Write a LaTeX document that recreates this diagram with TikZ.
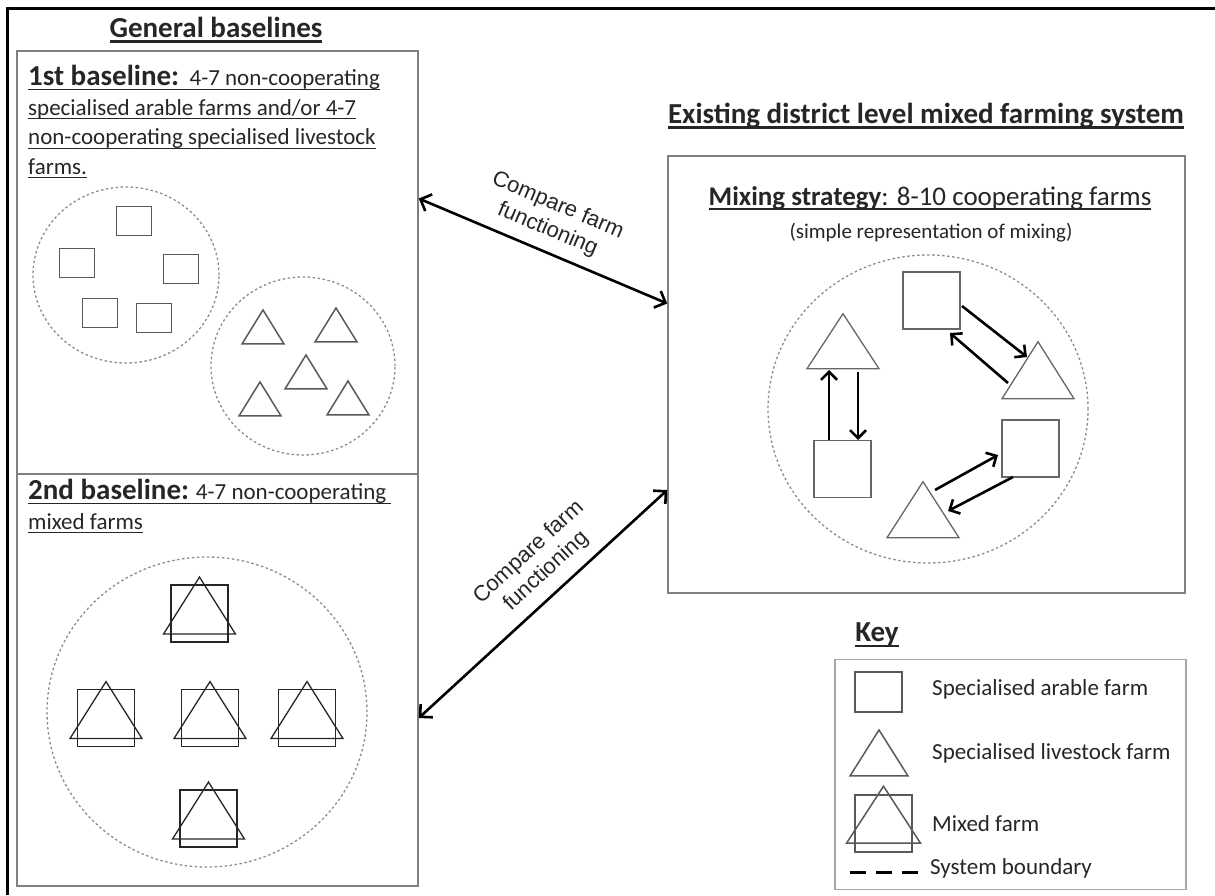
\documentclass[tikz,border=0pt]{standalone}
\usepackage{fontspec}
\setmainfont{Carlito}
\newfontfamily\arialfont{Liberation Sans}
\usetikzlibrary{shapes,positioning,calc,arrows.meta}

\newcommand{\headfont}{\fontsize{29}{34}\selectfont\bfseries}
\newcommand{\bodyfont}{\fontsize{23}{29.5}\selectfont}
\newsavebox{\ulbox}
\newcommand{\ulx}[2][0.9pt]{\sbox{\ulbox}{#2}\rlap{\rule[-0.18em]{\wd\ulbox}{#1}}\usebox{\ulbox}}
\newcommand{\headline}[1]{\ulx[2.4pt]{#1}}

\begin{document}
\begin{tikzpicture}[x=1pt, y=-1pt, text=black!85,
    panel/.style={draw=black!50, line width=1.5pt, inner sep=0},
    boundary/.style={draw=black!45, line width=1.3pt, dash pattern=on 2.5pt off 2.5pt, ellipse, inner sep=0},
    arable/.style={draw=black!65, line width=1.5pt, inner sep=0, minimum width=35, minimum height=29},
    livestock/.style={draw=black!65, line width=1.5pt, isosceles triangle, isosceles triangle stretches,
      shape border rotate=90, inner sep=0, anchor=apex, minimum width=42, minimum height=34},
    big/.style={draw=black!60, line width=1.3pt, minimum width=57, minimum height=57},
    bigtri/.style={draw=black!60, line width=1.3pt, minimum width=72, minimum height=56},
    mixed/.style={draw=black!85, line width=1.3pt},
    keytext/.style={font=\bodyfont, inner sep=0, anchor=west},
    flow/.style={line width=2.6pt, >={Straight Barb[length=8pt,width=16pt]}},
    cmp/.style={sloped, above=10pt, align=center, inner sep=0,
      font=\arialfont\fontsize{22}{26}\selectfont}]
  \useasboundingbox (0,0) rectangle (1215,895);
  \draw[line width=3pt] (7,895) -- (7,8) -- (1215,8);

  % general baselines
  \node[font=\headfont] (gentitle) at (216,30) {\headline{General baselines}};
  \node[panel, minimum width=401, minimum height=423] (base1) at (217.5,262.5) {};
  \node[panel, minimum width=401, minimum height=412] (base2) at (217.5,680) {};
  \node[anchor=north west, align=left, inner sep=0, font=\bodyfont] (base1txt) at (28,65)
    {\ulx{{\headfont 1st baseline:}\ \ 4-7 non-cooperating}\\
     \ulx{specialised arable farms and/or 4-7}\\
     \ulx{non-cooperating specialised livestock}\\
     \ulx{farms.}};
  \node[anchor=north west, align=left, inner sep=0, font=\bodyfont] (base2txt) at (28,479)
    {\ulx{{\headfont 2nd baseline:} 4-7 non-cooperating\ }\\
     \ulx{mixed farms}};

  \node[boundary, minimum width=186, minimum height=176] (arset) at (126,275) {};
  \node[boundary, minimum width=184, minimum height=178] (lsset) at (303,366) {};
  \node[boundary, minimum width=320, minimum height=310] (mxset) at (207,712) {};
  \foreach \x/\y [count=\i] in {134/221, 77/263, 181/269, 100/313, 154/318}
    \node[arable] (ar\i) at (\x,\y) {};
  \foreach \x/\y [count=\i] in {263/308, 336/306, 306/353, 260/380, 348/379}
    \node[livestock] (ls\i) at (\x,\y) {};
  \foreach \x/\y [count=\i] in {199.5/613.5, 106/718, 210/718, 307/718, 208.5/818.5} {
    \node[arable, big, mixed] (mxsq\i) at (\x,\y) {};
    \node[livestock, bigtri, mixed, minimum height=57] (mxtri\i) at ($(mxsq\i.north)+(0,-9)$) {};
  }

  % existing system
  \node[font=\headfont] (mixtitle) at (926,116) {\headline{Existing district level mixed farming system}};
  \node[panel, minimum width=517, minimum height=437] (mixbox) at (926.5,374.5) {};
  \node[font=\fontsize{27}{30}\selectfont] (mixhead) at (930,198)
    {\headline{{\bfseries Mixing strategy}: 8-10 cooperating farms}};
  \node[font=\fontsize{21}{24}\selectfont] (mixsub) at (931,233) {(simple representation of mixing)};
  \node[boundary, minimum width=320, minimum height=308] (mixset) at (928,409) {};
  \node[arable, big] (sqA) at (931.5,300.5) {};
  \node[livestock, bigtri, minimum height=55] (triB) at (843,312) {};
  \node[livestock, bigtri, minimum height=57] (triC) at (1038,340) {};
  \node[arable, big] (sqD) at (1030.5,448.5) {};
  \node[arable, big] (sqE) at (842.5,469) {};
  \node[livestock, bigtri] (triF) at (923,480) {};
  \draw[flow, ->] ($(sqE.center)+(-13.5,-29)$) -- ($(triB.apex)+(-14,58)$);
  \draw[flow, ->] ($(triB.apex)+(15,60)$) -- ($(sqE.center)+(15.5,-29)$);
  \draw[flow, ->] ($(sqA.center)+(30.5,5.5)$) -- ($(triC.apex)+(-11,17)$);
  \draw[flow, ->] ($(triC.apex)+(-30,43)$) -- ($(sqA.center)+(18.5,32.5)$);
  \draw[flow, ->] ($(triF.apex)+(12,10)$) -- ($(sqD.center)+(-32.5,6.5)$);
  \draw[flow, ->] ($(sqD.center)+(-17.5,28.5)$) -- ($(triF.apex)+(25,31)$);

  % comparisons
  \draw[flow, >={Straight Barb[length=9pt,width=18pt]}, <->] ($(base1.east)+(0,-64)$) --
    node[cmp, pos=0.485] {Compare farm\\functioning} ($(mixbox.west)+(0,-71)$);
  \draw[flow, >={Straight Barb[length=9pt,width=18pt]}, <->] ($(base2.east)+(0,38)$) --
    node[cmp, pos=0.573] {Compare farm\\functioning} ($(mixbox.west)+(0,115.5)$);

  % key
  \node[font=\headfont] (keytitle) at (877,635) {\headline{Key}};
  \node[panel, draw=black!35, minimum width=351, minimum height=230] (keybox) at (1010.5,774.5) {};
  \node[arable, minimum width=47, minimum height=40] (keyar) at (878.5,692) {};
  \node[keytext] (keyartxt) at (932,689) {Specialised arable farm};
  \node[livestock, minimum width=58, minimum height=46] (keyls) at (879,728) {};
  \node[keytext] (keylstxt) at (932,753) {Specialised livestock farm};
  \node[arable, minimum width=57, minimum height=57] (keymxsq) at (883.5,823.5) {};
  \node[livestock, minimum width=74, minimum height=57] (keymxtri) at ($(keymxsq.north)+(0,-10)$) {};
  \node[keytext] (keymxtxt) at (932,824) {Mixed farm};
  \draw[line width=3pt, dash pattern=on 16pt off 10pt] (850,872) -- (918,872);
  \node[keytext] (keybdtxt) at (930,868) {System boundary};
\end{tikzpicture}
\end{document}
